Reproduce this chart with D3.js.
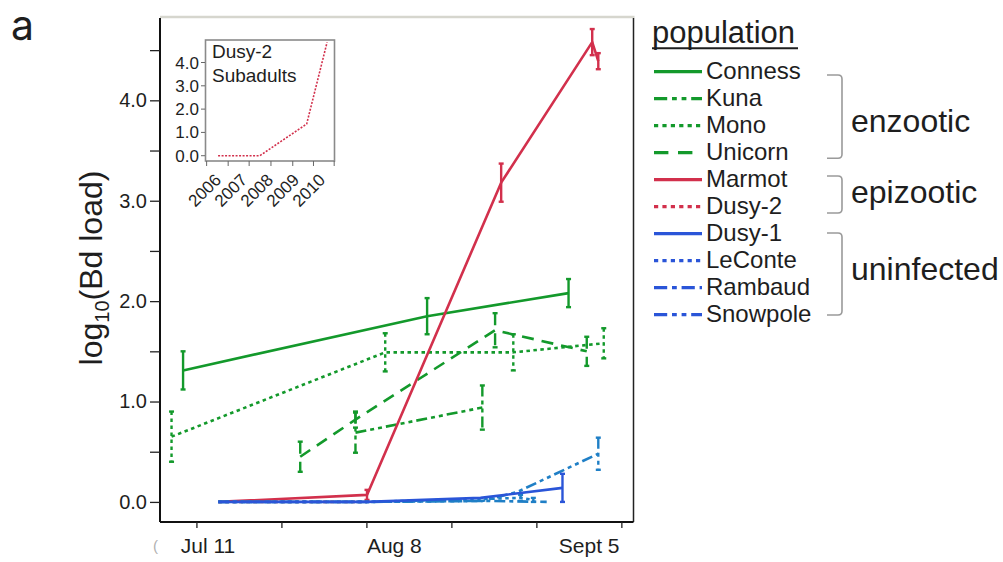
<!DOCTYPE html>
<html>
<head>
<meta charset="utf-8">
<script src="https://cdn.jsdelivr.net/npm/d3@7"></script>
<style>
  body { margin: 0; background: #fff; }
  svg { display: block; }
  text { font-family: "Liberation Sans", Arial, sans-serif; fill: #1e1e1e; }
</style>
</head>
<body>
<svg id="chart" width="1003" height="562"></svg>
<script>
// ---- data (days counted from Jul 1; loads are log10 Bd load) ----
const tickDays = [10, 24, 38, 52, 66, 80];
const dateLabels = ["Jul 11", "Aug 8", "Sept 5"];
const dateLabelDays = [11.9, 42.6, 74.7];
const loadTicks = [0, 0.5, 1, 1.5, 2, 2.5, 3, 3.5, 4, 4.5];

const connessDay = [7.8, 48.0, 71.3];
const connessLoad = [1.31, 1.85, 2.08];
const connessErr = [0.19, 0.18, 0.14];

const kunaDay = [36.2, 57.1];
const kunaLoad = [0.69, 0.94];
const kunaErr = [0.20, 0.22];

const monoDay = [5.9, 41.1, 62.2, 77.1];
const monoLoad = [0.65, 1.49, 1.49, 1.58];
const monoErr = [0.25, 0.19, 0.18, 0.15];

const unicornDay = [27.1, 36.2, 59.2, 74.3];
const unicornLoad = [0.45, 0.82, 1.71, 1.50];
const unicornErr = [0.15, 0.08, 0.17, 0.145];

const marmotDay = [13.6, 38.1, 60.2, 75.2, 76.2];
const marmotLoad = [0.0, 0.07, 3.18, 4.58, 4.39];
const marmotErr = [0, 0.05, 0.19, 0.13, 0.08];

const dusy2Day = [13.6, 38.1];
const dusy2Load = [0, 0];
const dusy2Err = [0, 0];

const dusy1Day = [13.6, 38.1, 56.8, 70.3];
const dusy1Load = [0, 0, 0.04, 0.14];
const dusy1Err = [0, 0, 0, 0.14];

const leconteDay = [13.6, 38.1, 63.4, 65.5];
const leconteLoad = [0, 0, 0.04, 0.02];
const leconteErr = [0, 0, 0.03, 0.02];

const rambaudDay = [13.6, 38.1, 58.0, 67.7];
const rambaudLoad = [0, 0, 0.01, 0];
const rambaudErr = [0, 0, 0, 0];

const snowpoleDay = [13.6, 38.1, 57.1, 62.9, 76.2];
const snowpoleLoad = [0, 0, 0.01, 0.10, 0.48];
const snowpoleErr = [0, 0, 0, 0, 0.16];

// Dusy-2 subadults across years (inset)
const subadultYear = [2006.0, 2007.53, 2009.25, 2010.0];
const subadultLoad = [0, 0, 1.36, 4.87];
const insetYearLabels = ["2006", "2007", "2008", "2009", "2010"];
const insetYearTicks = [2005.58, 2006.37, 2007.14, 2007.94, 2008.74, 2009.5, 2010.26];
const insetLoadTicks = [0, 1, 2, 3, 4];

const groupNames = ["enzootic", "epizootic", "uninfected"];

// ---- styles ----
const GREEN = "#13992b", RED = "#d2304c", BLUE = "#2a55d8", TEAL = "#1f7fc6";
const DASH = {
  solid: null,
  dot: "3.5,3.5",
  dash: "12,8",
  dashdotdot: "11,4,4,4,4,4",
  dashdot: "11,4,4,4"
};

const series = [
  { name: "Conness",  day: connessDay,  load: connessLoad,  err: connessErr,  color: GREEN, dash: DASH.solid, legColor: GREEN },
  { name: "Kuna",     day: kunaDay,     load: kunaLoad,     err: kunaErr,     color: GREEN, dash: DASH.dashdotdot, legColor: GREEN },
  { name: "Mono",     day: monoDay,     load: monoLoad,     err: monoErr,     color: GREEN, dash: DASH.dot, legColor: GREEN },
  { name: "Unicorn",  day: unicornDay,  load: unicornLoad,  err: unicornErr,  color: GREEN, dash: DASH.dash, legColor: GREEN },
  { name: "Marmot",   day: marmotDay,   load: marmotLoad,   err: marmotErr,   color: RED, dash: DASH.solid, legColor: RED },
  { name: "Dusy-2",   day: dusy2Day,    load: dusy2Load,    err: dusy2Err,    color: RED, dash: DASH.dot, legColor: RED },
  { name: "Dusy-1",   day: dusy1Day,    load: dusy1Load,    err: dusy1Err,    color: BLUE, dash: DASH.solid, legColor: BLUE },
  { name: "LeConte",  day: leconteDay,  load: leconteLoad,  err: leconteErr,  color: TEAL, dash: DASH.dot, legColor: BLUE },
  { name: "Rambaud",  day: rambaudDay,  load: rambaudLoad,  err: rambaudErr,  color: TEAL, dash: DASH.dashdot, legColor: BLUE },
  { name: "Snowpole", day: snowpoleDay, load: snowpoleLoad, err: snowpoleErr, color: TEAL, dash: DASH.dashdotdot, legColor: BLUE }
];
// paint order: green, red, then the near-zero blue lines on top
const drawOrder = ["Conness", "Kuna", "Mono", "Unicorn", "Dusy-2", "Marmot", "Rambaud", "LeConte", "Snowpole", "Dusy-1"];

const svg = d3.select("#chart");

// ---- main panel ----
const pLeft = 160, pRight = 633.5, pTop = 17, pBottom = 522;
const x = d3.scaleLinear().domain([4, 82]).range([pLeft, pRight]);
const y = d3.scaleLinear().domain([-0.2, 4.83]).range([pBottom, pTop]);

// frame: light top rule, dark right edge
svg.append("line").attr("x1", pLeft).attr("x2", pRight + 1).attr("y1", pTop).attr("y2", pTop)
  .attr("stroke", "#d6d6ce").attr("stroke-width", 2.5);
svg.append("line").attr("x1", pRight).attr("x2", pRight).attr("y1", pTop + 1).attr("y2", pBottom)
  .attr("stroke", "#222").attr("stroke-width", 1.5);

const yAxis = svg.append("g").attr("transform", `translate(${pLeft},0)`)
  .call(d3.axisLeft(y).tickValues(loadTicks).tickSize(10).tickSizeOuter(0).tickPadding(3)
    .tickFormat(d => Number.isInteger(d) ? d.toFixed(1) : ""));
yAxis.select(".domain").attr("stroke", "#111").attr("stroke-width", 2).attr("d", `M0,${pTop + 1}V${pBottom}`);
yAxis.selectAll(".tick line").attr("stroke", "#222").attr("stroke-width", 1.3);
yAxis.selectAll(".tick text").attr("font-size", 20).attr("fill", "#1e1e1e")
  .attr("font-family", "Liberation Sans, Arial, sans-serif");

const xAxis = svg.append("g").attr("transform", `translate(0,${pBottom})`)
  .call(d3.axisBottom(x).tickValues(tickDays).tickSize(6).tickSizeOuter(0).tickFormat(""));
xAxis.select(".domain").attr("stroke", "#111").attr("stroke-width", 2).attr("d", `M${pLeft},0H${pRight}`);
xAxis.selectAll(".tick line").attr("stroke", "#222").attr("stroke-width", 1.3);

svg.append("g").selectAll("text").data(dateLabels).join("text")
  .attr("x", (d, i) => x(dateLabelDays[i])).attr("y", 553)
  .attr("text-anchor", "middle").attr("font-size", 21).text(d => d);
// clipped label fragment at the left end of the date axis
svg.append("text").attr("x", 153).attr("y", 551).attr("font-size", 15)
  .style("fill", "#b0b0b0").text("(");

// y title with subscript
const yt = svg.append("text").attr("transform", "translate(102,268) rotate(-90)")
  .attr("text-anchor", "middle").attr("font-size", 32);
yt.append("tspan").text("log");
yt.append("tspan").attr("font-size", 20).attr("dy", 7).text("10");
yt.append("tspan").attr("dy", -7).text("(Bd load)");

// panel letter
svg.append("text").attr("x", 11).attr("y", 40).attr("font-size", 41)
  .style("font-family", "Inter, 'Open Sans', sans-serif").text("a");

// ---- series: lines and error bars ----
const line = d3.line().x(d => x(d.day)).y(d => y(d.load));
const byName = new Map(series.map(s => [s.name, s]));
const plot = svg.append("g");
drawOrder.forEach(n => {
  const s = byName.get(n);
  const pts = s.day.map((d, i) => ({ day: d, load: s.load[i], err: s.err[i] }));
  const g = plot.append("g");
  g.append("path").datum(pts).attr("d", line).attr("fill", "none")
    .attr("stroke", s.color).attr("stroke-width", 2.6)
    .attr("stroke-dasharray", s.dash).attr("stroke-linejoin", "round");
  const bars = g.selectAll("g.bar").data(pts.filter(p => p.err > 0)).join("g");
  bars.append("line")
    .attr("x1", p => x(p.day)).attr("x2", p => x(p.day))
    .attr("y1", p => y(p.load + p.err)).attr("y2", p => y(p.load - p.err))
    .attr("stroke", s.color).attr("stroke-width", 2.4).attr("stroke-dasharray", s.dash);
  [1, -1].forEach(sg => {
    bars.append("line")
      .attr("x1", p => x(p.day) - 2.5).attr("x2", p => x(p.day) + 2.5)
      .attr("y1", p => y(p.load + sg * p.err)).attr("y2", p => y(p.load + sg * p.err))
      .attr("stroke", s.color).attr("stroke-width", 2.4);
  });
});

// ---- inset: Dusy-2 subadults ----
const ix = d3.scaleLinear().domain([2005.52, 2010.29]).range([205, 335]);
const iy = d3.scaleLinear().domain([-0.257, 4.966]).range([161.7, 40]);
const inset = svg.append("g");
inset.append("rect").attr("x", 205.5).attr("y", 40).attr("width", 129).attr("height", 121)
  .attr("fill", "#fff").attr("stroke", "#8a8a8a").attr("stroke-width", 1.6);
inset.selectAll("line.yt").data(insetLoadTicks).join("line")
  .attr("x1", 201).attr("x2", 205).attr("y1", d => iy(d)).attr("y2", d => iy(d))
  .attr("stroke", "#666").attr("stroke-width", 1);
inset.selectAll("text.yl").data(insetLoadTicks).join("text")
  .attr("x", 199).attr("y", d => iy(d) + 6).attr("text-anchor", "end")
  .attr("font-size", 17).text(d => d.toFixed(1));
inset.selectAll("line.xt").data(insetYearTicks).join("line")
  .attr("x1", d => ix(d)).attr("x2", d => ix(d)).attr("y1", 161).attr("y2", 166)
  .attr("stroke", "#666").attr("stroke-width", 1);
inset.selectAll("text.xl").data(insetYearLabels).join("text")
  .attr("transform", (d, i) => `translate(${ix(+d) + 4 - i * 1.2},${181}) rotate(-45)`)
  .attr("text-anchor", "end").attr("font-size", 17).text(d => d);
inset.append("path")
  .datum(subadultYear.map((yr, i) => ({ yr, v: subadultLoad[i] })))
  .attr("d", d3.line().x(d => ix(d.yr)).y(d => iy(d.v)))
  .attr("fill", "none").attr("stroke", RED).attr("stroke-width", 1.6).attr("stroke-dasharray", "2,1.5");
inset.append("text").attr("x", 212).attr("y", 58).attr("font-size", 19).text("Dusy-2");
inset.append("text").attr("x", 212).attr("y", 81.5).attr("font-size", 19).text("Subadults");

// ---- legend ----
const leg = svg.append("g");
leg.append("text").attr("x", 652).attr("y", 42.7).attr("font-size", 31).text("population");
leg.append("line").attr("x1", 652).attr("x2", 798).attr("y1", 48.3).attr("y2", 48.3)
  .attr("stroke", "#1e1e1e").attr("stroke-width", 2);
const rowY = i => 79.3 + i * 27;
const rows = leg.selectAll("g.row").data(series).join("g");
rows.append("line").attr("x1", 654).attr("x2", 702)
  .attr("y1", (d, i) => rowY(i) - 7.6).attr("y2", (d, i) => rowY(i) - 7.6)
  .attr("stroke", d => d.legColor).attr("stroke-width", 3.2)
  .attr("stroke-dasharray", d => d.dash ? d.dash.split(",").map(v => +v * 1.2).join(",") : null);
rows.append("text").attr("x", 706).attr("y", (d, i) => rowY(i)).attr("font-size", 24).text(d => d.name);

// group brackets with labels
const groupSpan = [[75, 158.3], [176, 213], [233, 315]];
const groupLabelY = [131.7, 202.7, 280];
groupNames.forEach((gname, i) => {
  const [t, b] = groupSpan[i], x0 = 827, x1 = 842;
  leg.append("path")
    .attr("d", `M${x0},${t}H${x1 - 4}Q${x1},${t} ${x1},${t + 4}V${b - 4}Q${x1},${b} ${x1 - 4},${b}H${x0}`)
    .attr("fill", "none").attr("stroke", "#9a9a9a").attr("stroke-width", 1.6);
  leg.append("text").attr("x", 851).attr("y", groupLabelY[i]).attr("font-size", 32).text(gname);
});
</script>
</body>
</html>
